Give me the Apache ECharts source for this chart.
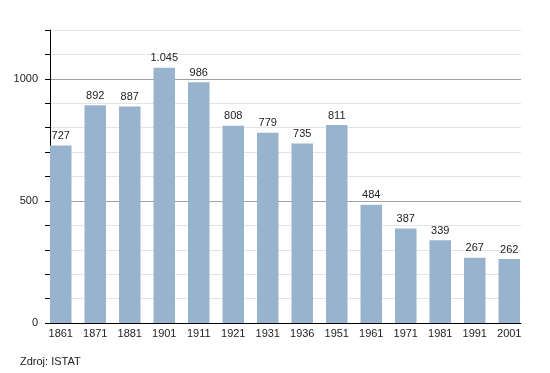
<!DOCTYPE html>
<html>
<head>
<meta charset="utf-8">
<script src="https://cdn.jsdelivr.net/npm/echarts@6/dist/echarts.min.js"></script>
<style>
html,body{margin:0;padding:0;background:#fff;}
#c{width:550px;height:373px;}
</style>
</head>
<body>
<div id="c"></div>
<script>
const categories = ['1861','1871','1881','1901','1911','1921','1931','1936','1951','1961','1971','1981','1991','2001'];
const population = [727, 892, 887, 1045, 986, 808, 779, 735, 811, 484, 387, 339, 267, 262];
const yTickLabels = [0, 500, 1000];
const sourceText = 'Zdroj: ISTAT';

const FONT = '"Liberation Sans", Arial, sans-serif';
const chart = echarts.init(document.getElementById('c'), null, {renderer: 'canvas'});
const dark = '#a0a0a0', light = '#e4e4e4';
chart.setOption({
  animation: false,
  backgroundColor: '#fff',
  textStyle: {fontFamily: FONT},
  graphic: [{
    type: 'text', left: 20, top: 356,
    style: {text: sourceText, font: '11px ' + FONT, fill: '#222'}
  }],
  grid: [
    {left: 50, right: 29, top: 30, bottom: 50},
    {left: 43.5, width: 483, top: 30, bottom: 50}
  ],
  xAxis: [
    {gridIndex: 0, type: 'value', min: 0, max: 1,
      axisLine: {show: true, onZero: false, lineStyle: {color: '#000', width: 1}},
      axisTick: {show: false}, axisLabel: {show: false}, splitLine: {show: false}},
    {gridIndex: 1, type: 'category', data: categories,
      axisLine: {show: false}, axisTick: {show: false},
      axisLabel: {color: '#222', fontSize: 11, fontFamily: FONT, margin: 5, interval: 0},
      splitLine: {show: false}}
  ],
  yAxis: [
    {gridIndex: 0, type: 'value', min: 0, max: 1200, interval: 100,
      axisLine: {show: true, lineStyle: {color: '#000', width: 1}},
      axisTick: {show: true, length: 5, lineStyle: {color: '#000'}},
      axisLabel: {color: '#222', fontSize: 11, fontFamily: FONT, margin: 12,
        formatter: v => yTickLabels.indexOf(v) >= 0 ? String(v) : ''},
      splitLine: {show: true, lineStyle: {color: [dark, light, light, light, light], width: 1}}},
    {gridIndex: 1, type: 'value', min: 0, max: 1200, show: false, splitLine: {show: false}}
  ],
  series: [{
    type: 'bar', xAxisIndex: 1, yAxisIndex: 1,
    data: population, barWidth: 21.5,
    itemStyle: {color: '#98b3cd'},
    label: {show: true, position: 'top', distance: 4, color: '#222', fontSize: 11, fontFamily: FONT,
      formatter: p => p.value >= 1000 ? Math.floor(p.value/1000) + '.' + String(p.value%1000).padStart(3,'0') : String(p.value)}
  }]
});
</script>
</body>
</html>
